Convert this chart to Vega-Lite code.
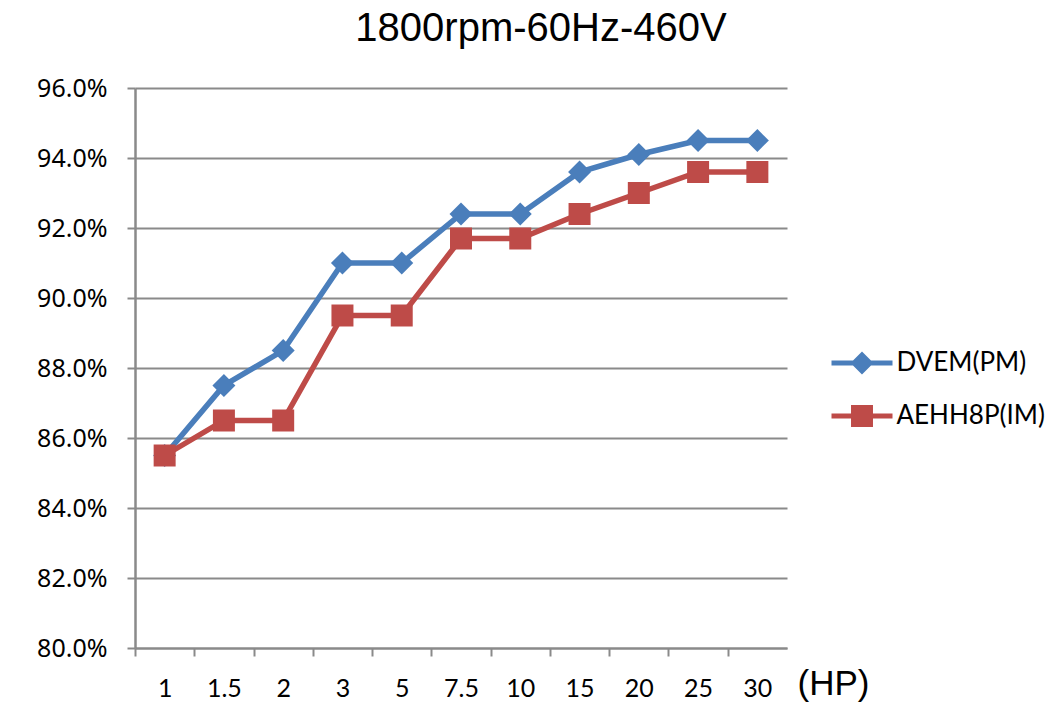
{
  "$schema": "https://vega.github.io/schema/vega-lite/v6.json",
  "width": 652,
  "height": 560,
  "autosize": {"type": "none"},
  "padding": {"left": 135, "top": 88, "right": 268, "bottom": 68},
  "background": "white",
  "config": {"view": {"stroke": null}},
  "title": {
    "text": "1800rpm-60Hz-460V",
    "font": "Liberation Sans",
    "fontSize": 40,
    "fontWeight": "normal",
    "color": "#000000",
    "anchor": "middle",
    "frame": "group",
    "dx": 80,
    "dy": 23,
    "baseline": "bottom",
    "offset": 10
  },
  "data": {
    "values": [
      {"hp": "1", "series": "DVEM(PM)", "eff": 0.855},
      {"hp": "1.5", "series": "DVEM(PM)", "eff": 0.875},
      {"hp": "2", "series": "DVEM(PM)", "eff": 0.885},
      {"hp": "3", "series": "DVEM(PM)", "eff": 0.910},
      {"hp": "5", "series": "DVEM(PM)", "eff": 0.910},
      {"hp": "7.5", "series": "DVEM(PM)", "eff": 0.924},
      {"hp": "10", "series": "DVEM(PM)", "eff": 0.924},
      {"hp": "15", "series": "DVEM(PM)", "eff": 0.936},
      {"hp": "20", "series": "DVEM(PM)", "eff": 0.941},
      {"hp": "25", "series": "DVEM(PM)", "eff": 0.945},
      {"hp": "30", "series": "DVEM(PM)", "eff": 0.945},
      {"hp": "1", "series": "AEHH8P(IM)", "eff": 0.855},
      {"hp": "1.5", "series": "AEHH8P(IM)", "eff": 0.865},
      {"hp": "2", "series": "AEHH8P(IM)", "eff": 0.865},
      {"hp": "3", "series": "AEHH8P(IM)", "eff": 0.895},
      {"hp": "5", "series": "AEHH8P(IM)", "eff": 0.895},
      {"hp": "7.5", "series": "AEHH8P(IM)", "eff": 0.917},
      {"hp": "10", "series": "AEHH8P(IM)", "eff": 0.917},
      {"hp": "15", "series": "AEHH8P(IM)", "eff": 0.924},
      {"hp": "20", "series": "AEHH8P(IM)", "eff": 0.930},
      {"hp": "25", "series": "AEHH8P(IM)", "eff": 0.936},
      {"hp": "30", "series": "AEHH8P(IM)", "eff": 0.936}
    ]
  },
  "encoding": {
    "x": {
      "field": "hp",
      "type": "ordinal",
      "sort": ["1", "1.5", "2", "3", "5", "7.5", "10", "15", "20", "25", "30"],
      "scale": {"type": "point", "padding": 0.5},
      "axis": {
        "title": "(HP)",
        "titleX": 662,
        "titleY": 46,
        "titleAlign": "left",
        "titleAnchor": null,
        "titleBaseline": "alphabetic",
        "titleFont": "Liberation Sans",
        "titleFontSize": 35,
        "titleFontWeight": "normal",
        "titleColor": "#000000",
        "labelFont": "Lato",
        "labelFontSize": 25,
        "labelColor": "#000000",
        "labelAngle": 0,
        "labelPadding": 20,
        "labelBaseline": "top",
        "tickSize": 8,
        "tickColor": "#8A8A8A",
        "tickWidth": 2,
        "tickOffset": -29.64,
        "labelOffset": 29.64,
        "domainColor": "#8A8A8A",
        "domainWidth": 2,
        "grid": false
      }
    },
    "y": {
      "field": "eff",
      "type": "quantitative",
      "scale": {"domain": [0.8, 0.96], "nice": false, "zero": false},
      "axis": {
        "title": null,
        "values": [0.8, 0.82, 0.84, 0.86, 0.88, 0.9, 0.92, 0.94, 0.96],
        "format": ".1%",
        "labelFont": "Noto Sans",
        "labelFontSize": 25,
        "labelColor": "#000000",
        "labelPadding": 20,
        "tickSize": 8,
        "tickColor": "#8A8A8A",
        "tickWidth": 2,
        "domainColor": "#8A8A8A",
        "domainWidth": 2.5,
        "grid": true,
        "gridColor": "#8A8A8A",
        "gridWidth": 1.8
      }
    },
    "color": {
      "field": "series",
      "type": "nominal",
      "sort": ["DVEM(PM)", "AEHH8P(IM)"],
      "scale": {"domain": ["DVEM(PM)", "AEHH8P(IM)"], "range": ["#4A7EBB", "#BE4B48"]},
      "legend": {
        "orient": "none",
        "legendX": 696.5,
        "legendY": 244.5,
        "title": null,
        "padding": 0,
        "symbolSize": 3721,
        "labelOffset": 4,
        "rowPadding": 9,
        "labelFont": "Lato",
        "labelFontSize": 26,
        "labelColor": "#000000",
        "encode": {
          "symbols": {
            "update": {
              "shape": {"signal": "datum.value === 'DVEM(PM)' ? 'M-1,-0.082 L1,-0.082 L1,0.082 L-1,0.082 Z M0,-0.377 L0.377,0 L0,0.377 L-0.377,0 Z' : 'M-1,-0.082 L1,-0.082 L1,0.082 L-1,0.082 Z M-0.36,-0.36 L0.36,-0.36 L0.36,0.36 L-0.36,0.36 Z'"},
              "fill": {"signal": "datum.value === 'DVEM(PM)' ? '#4A7EBB' : '#BE4B48'"},
              "stroke": {"value": "transparent"},
              "strokeWidth": {"value": 0},
              "opacity": {"value": 1},
              "fillOpacity": {"value": 1}
            }
          }
        }
      }
    }
  },
  "layer": [
    {"mark": {"type": "line", "strokeWidth": 5.5}},
    {
      "transform": [{"filter": "datum.series === 'DVEM(PM)'"}],
      "mark": {"type": "point", "filled": true, "opacity": 1, "size": 529, "shape": "diamond"}
    },
    {
      "transform": [{"filter": "datum.series === 'AEHH8P(IM)'"}],
      "mark": {"type": "point", "filled": true, "opacity": 1, "size": 484, "shape": "square"}
    }
  ]
}
